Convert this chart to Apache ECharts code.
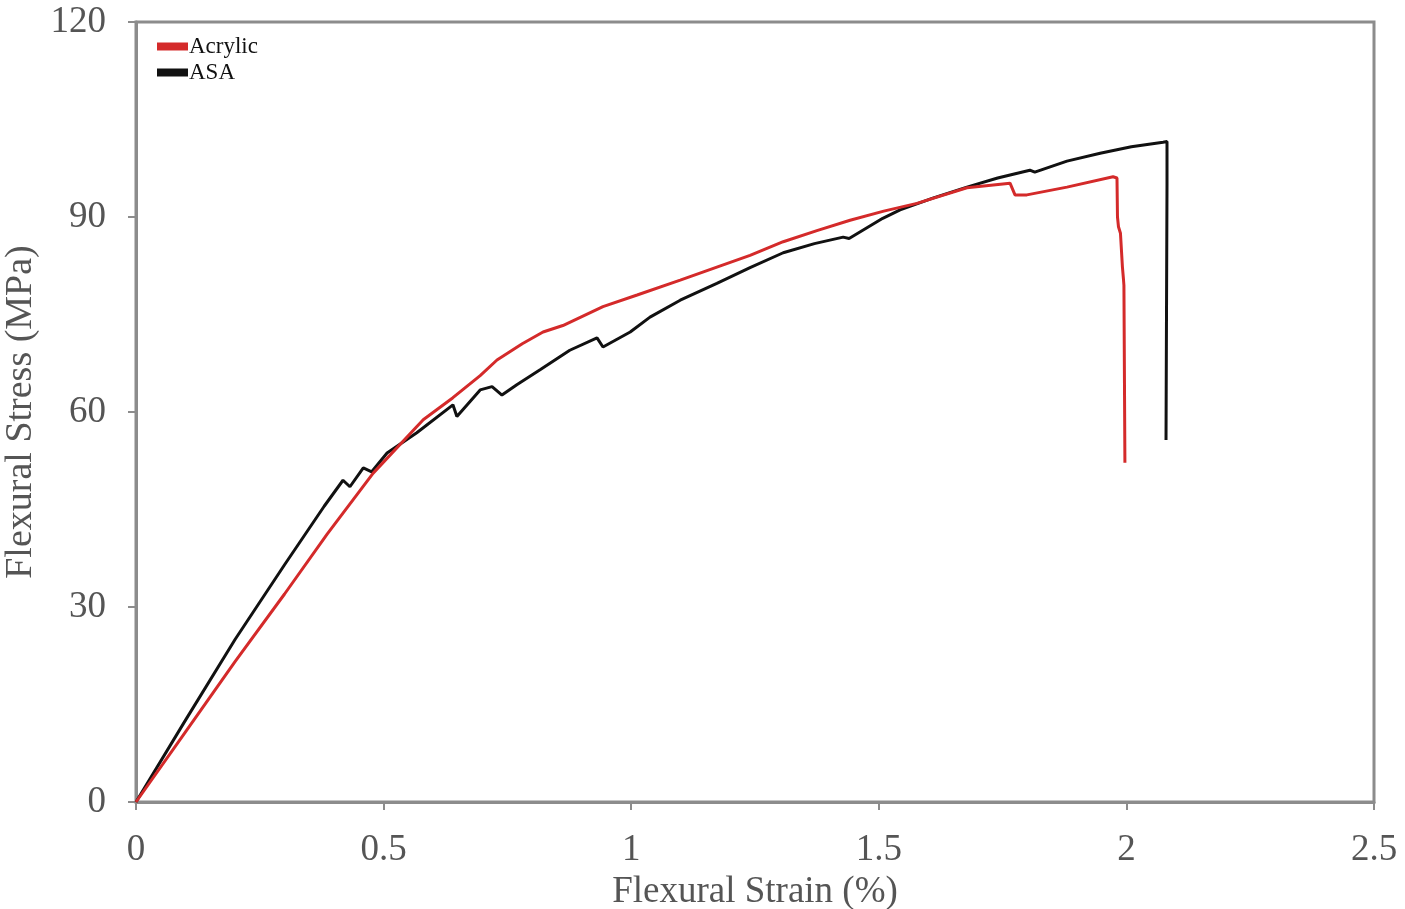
<!DOCTYPE html>
<html>
<head>
<meta charset="utf-8">
<script src="https://cdn.jsdelivr.net/npm/echarts@6/dist/echarts.min.js"></script>
<style>html,body{margin:0;padding:0;background:#fff}#c{width:1405px;height:909px}</style>
</head>
<body>
<div id="c"></div>
<script>
const xTicks = [0, 0.5, 1, 1.5, 2, 2.5];
const yTicks = [0, 30, 60, 90, 120];

const acrylicStrain = [0, 0.1, 0.2, 0.3, 0.386, 0.479, 0.58, 0.64, 0.695, 0.729, 0.78, 0.822, 0.862, 0.943, 1.012, 1.099, 1.173, 1.24, 1.307, 1.375, 1.442, 1.51, 1.577, 1.678, 1.765, 1.775, 1.799, 1.88, 1.973, 1.981, 1.982, 1.984, 1.988, 1.992, 1.994, 1.995, 1.997];
const acrylicStress = [0, 10.8, 21.6, 32.0, 41.2, 50.6, 58.8, 62.2, 65.6, 68.0, 70.5, 72.3, 73.3, 76.2, 78.0, 80.3, 82.3, 84.1, 86.2, 87.9, 89.5, 90.9, 92.1, 94.5, 95.2, 93.4, 93.4, 94.6, 96.2, 96.0, 90.0, 88.5, 87.5, 82.3, 80.5, 79.5, 52.2];

const asaStrain = [0, 0.1, 0.2, 0.3, 0.38, 0.418, 0.432, 0.459, 0.476, 0.507, 0.567, 0.64, 0.648, 0.695, 0.719, 0.739, 0.769, 0.816, 0.876, 0.931, 0.943, 0.998, 1.038, 1.099, 1.173, 1.24, 1.307, 1.37, 1.428, 1.44, 1.508, 1.543, 1.609, 1.678, 1.74, 1.805, 1.815, 1.88, 1.947, 2.01, 2.074, 2.082, 2.082, 2.080];
const asaStress = [0, 12.6, 25.0, 36.5, 45.5, 49.5, 48.5, 51.4, 50.8, 53.7, 56.8, 61.1, 59.3, 63.4, 63.9, 62.6, 64.2, 66.5, 69.5, 71.4, 70.0, 72.3, 74.6, 77.2, 79.8, 82.2, 84.5, 85.9, 86.9, 86.7, 89.8, 91.1, 92.9, 94.6, 96.0, 97.2, 96.9, 98.6, 99.8, 100.8, 101.5, 101.6, 95.0, 55.7];

const pairs = (xs, ys) => xs.map((x, i) => [x, ys[i]]);
const serif = '"Liberation Serif", "DejaVu Serif", serif';
const grayText = '#555';
const axisGray = '#8c8c8c';

const chart = echarts.init(document.getElementById('c'));
chart.setOption({
  animation: false,
  backgroundColor: '#fff',
  grid: { left: 136, right: 31, top: 22, bottom: 107, containLabel: false, outerBoundsMode: 'none',
    show: true, borderColor: axisGray, borderWidth: 3, backgroundColor: 'transparent' },
  legend: {
    orient: 'vertical', left: 152, top: 30, itemGap: 3, itemWidth: 31, itemHeight: 8,
    icon: 'rect',
    textStyle: { fontFamily: serif, fontSize: 23, color: '#111', padding: [0, 0, 0, -4] },
    data: ['Acrylic', 'ASA']
  },
  xAxis: {
    type: 'value', min: 0, max: 2.5, interval: 0.5,
    name: 'Flexural Strain (%)', nameLocation: 'middle', nameGap: 72,
    nameTextStyle: { fontFamily: serif, fontSize: 37, color: grayText },
    axisLine: { show: true, lineStyle: { color: axisGray, width: 3 } },
    axisTick: { show: true, inside: false, length: 8, lineStyle: { color: axisGray, width: 2 } },
    axisLabel: { fontFamily: serif, fontSize: 37, color: grayText, margin: 30, formatter: v => String(v) },
    splitLine: { show: false }
  },
  yAxis: {
    type: 'value', min: 0, max: 120, interval: 30,
    name: 'Flexural Stress (MPa)', nameLocation: 'middle', nameGap: 88,
    nameTextStyle: { fontFamily: serif, fontSize: 38, color: grayText },
    axisLine: { show: true, lineStyle: { color: axisGray, width: 3 } },
    axisTick: { show: true, inside: false, length: 8, lineStyle: { color: axisGray, width: 2 } },
    axisLabel: { fontFamily: serif, fontSize: 37, color: grayText, margin: 30 },
    splitLine: { show: false }
  },
  series: [
    { name: 'Acrylic', type: 'line', data: pairs(acrylicStrain, acrylicStress), showSymbol: false, symbol: 'none',
      lineStyle: { color: '#d42a2a', width: 3 }, itemStyle: { color: '#d42a2a' }, z: 3 },
    { name: 'ASA', type: 'line', data: pairs(asaStrain, asaStress), showSymbol: false, symbol: 'none',
      lineStyle: { color: '#111', width: 3 }, itemStyle: { color: '#111' }, z: 2 }
  ]
});
</script>
</body>
</html>
